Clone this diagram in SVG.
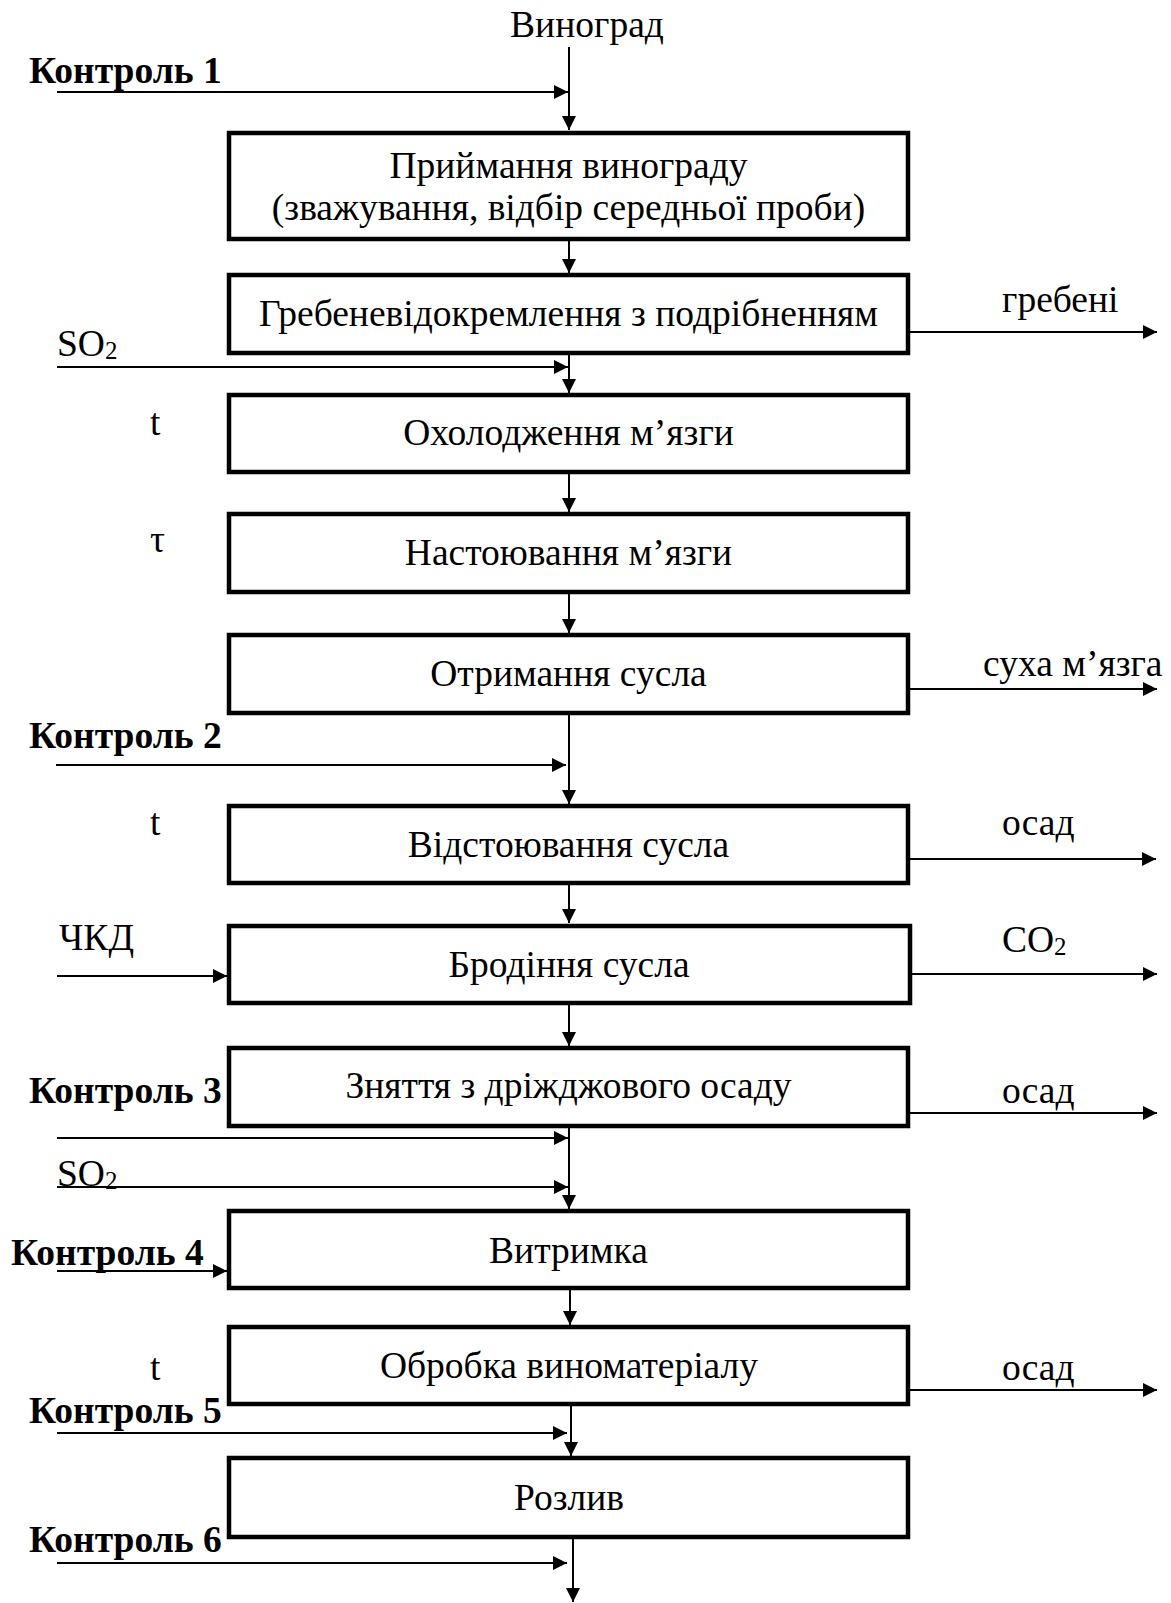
<svg xmlns="http://www.w3.org/2000/svg" width="1171" height="1603" viewBox="0 0 1171 1603">
<style>
.box{fill:#fff;stroke:#000;stroke-width:4.5;stroke-linejoin:miter}
.t{font-family:"Liberation Serif","Times New Roman",serif;font-size:37.5px;fill:#000}
.c{text-anchor:middle}
.b{font-weight:bold}
.sub{font-size:25px}
.ln{stroke:#000;stroke-width:2;fill:none;marker-end:url(#ah)}
</style>
<defs>
<marker id="ah" markerUnits="userSpaceOnUse" markerWidth="15" markerHeight="14" refX="14" refY="7" orient="auto">
<path d="M0,0 L14,7 L0,14 Z" fill="#000"/>
</marker>
</defs>
<rect width="1171" height="1603" fill="#fff"/>

<g id="connectors">
<line class="ln" x1="569" y1="47" x2="569" y2="130"/>
<line class="ln" x1="57" y1="92" x2="568" y2="92"/>
<line class="ln" x1="569" y1="239" x2="569" y2="273"/>
<line class="ln" x1="908" y1="332" x2="1157" y2="332"/>
<line class="ln" x1="57" y1="367" x2="568" y2="367"/>
<line class="ln" x1="569" y1="351" x2="569" y2="393"/>
<line class="ln" x1="569" y1="470" x2="569" y2="512"/>
<line class="ln" x1="569" y1="594" x2="569" y2="633"/>
<line class="ln" x1="908" y1="689" x2="1157" y2="689"/>
<line class="ln" x1="569" y1="711" x2="569" y2="804"/>
<line class="ln" x1="56" y1="765" x2="566" y2="765"/>
<line class="ln" x1="908" y1="859" x2="1156" y2="859"/>
<line class="ln" x1="569" y1="883" x2="569" y2="923"/>
<line class="ln" x1="57" y1="976" x2="227" y2="976"/>
<line class="ln" x1="908" y1="974" x2="1157" y2="974"/>
<line class="ln" x1="569" y1="1003" x2="569" y2="1046"/>
<line class="ln" x1="908" y1="1113" x2="1157" y2="1113"/>
<line class="ln" x1="57" y1="1138" x2="568" y2="1138"/>
<line class="ln" x1="57" y1="1187" x2="568" y2="1187"/>
<line class="ln" x1="569" y1="1124" x2="569" y2="1209"/>
<line class="ln" x1="57" y1="1271" x2="227" y2="1271"/>
<line class="ln" x1="570" y1="1282" x2="570" y2="1325"/>
<line class="ln" x1="908" y1="1390" x2="1157" y2="1390"/>
<line class="ln" x1="57" y1="1433" x2="567" y2="1433"/>
<line class="ln" x1="571" y1="1402" x2="571" y2="1456"/>
<line class="ln" x1="57" y1="1563" x2="567" y2="1563"/>
<line class="ln" x1="573" y1="1535" x2="573" y2="1602"/>
</g>

<g id="n1"><rect class="box" x="229" y="133" width="679" height="106"/>
<text class="t c" x="568.5" y="178">Приймання винограду</text>
<text class="t c" x="568.5" y="220">(зважування, відбір середньої проби)</text></g>
<g id="n2"><rect class="box" x="229" y="275" width="679" height="78"/>
<text class="t c" x="568.5" y="326">Гребеневідокремлення з подрібненням</text></g>
<g id="n3"><rect class="box" x="229" y="395" width="679" height="77"/>
<text class="t c" x="568.5" y="445">Охолодження м’язги</text></g>
<g id="n4"><rect class="box" x="229" y="514" width="679" height="78"/>
<text class="t c" x="568.5" y="565">Настоювання м’язги</text></g>
<g id="n5"><rect class="box" x="229" y="635" width="679" height="78"/>
<text class="t c" x="568.5" y="686">Отримання сусла</text></g>
<g id="n6"><rect class="box" x="229" y="806" width="679" height="77"/>
<text class="t c" x="568.5" y="857">Відстоювання сусла</text></g>
<g id="n7"><rect class="box" x="229" y="926" width="681" height="77"/>
<text class="t c" x="569" y="977">Бродіння сусла</text></g>
<g id="n8"><rect class="box" x="229" y="1048" width="679" height="78"/>
<text class="t c" x="568.5" y="1098">Зняття з дріжджового осаду</text></g>
<g id="n9"><rect class="box" x="229" y="1211" width="679" height="77"/>
<text class="t c" x="568.5" y="1263">Витримка</text></g>
<g id="n10"><rect class="box" x="229" y="1327" width="679" height="77"/>
<text class="t c" x="569" y="1378">Обробка виноматеріалу</text></g>
<g id="n11"><rect class="box" x="229" y="1458" width="679" height="79"/>
<text class="t c" x="569" y="1510">Розлив</text></g>

<g id="labels">
<text class="t c" x="587" y="37">Виноград</text>
<text class="t b" x="29" y="83">Контроль 1</text>
<text class="t b" x="29" y="748">Контроль 2</text>
<text class="t b" x="29" y="1103">Контроль 3</text>
<text class="t b" x="11" y="1265">Контроль 4</text>
<text class="t b" x="29" y="1423">Контроль 5</text>
<text class="t b" x="29" y="1552">Контроль 6</text>
<text class="t" x="57" y="356">SO<tspan class="sub" dy="3">2</tspan></text>
<text class="t" x="57" y="1186">SO<tspan class="sub" dy="3">2</tspan></text>
<text class="t" x="150" y="435">t</text>
<text class="t" x="150" y="552">τ</text>
<text class="t" x="150" y="835">t</text>
<text class="t" x="150" y="1380">t</text>
<text class="t" x="59" y="950">ЧКД</text>
<text class="t" x="1002" y="312">гребені</text>
<text class="t" x="983" y="676">суха м’язга</text>
<text class="t" x="1002" y="835">осад</text>
<text class="t" x="1002" y="952">CO<tspan class="sub" dy="3">2</tspan></text>
<text class="t" x="1002" y="1103">осад</text>
<text class="t" x="1002" y="1380">осад</text>
</g>
</svg>
